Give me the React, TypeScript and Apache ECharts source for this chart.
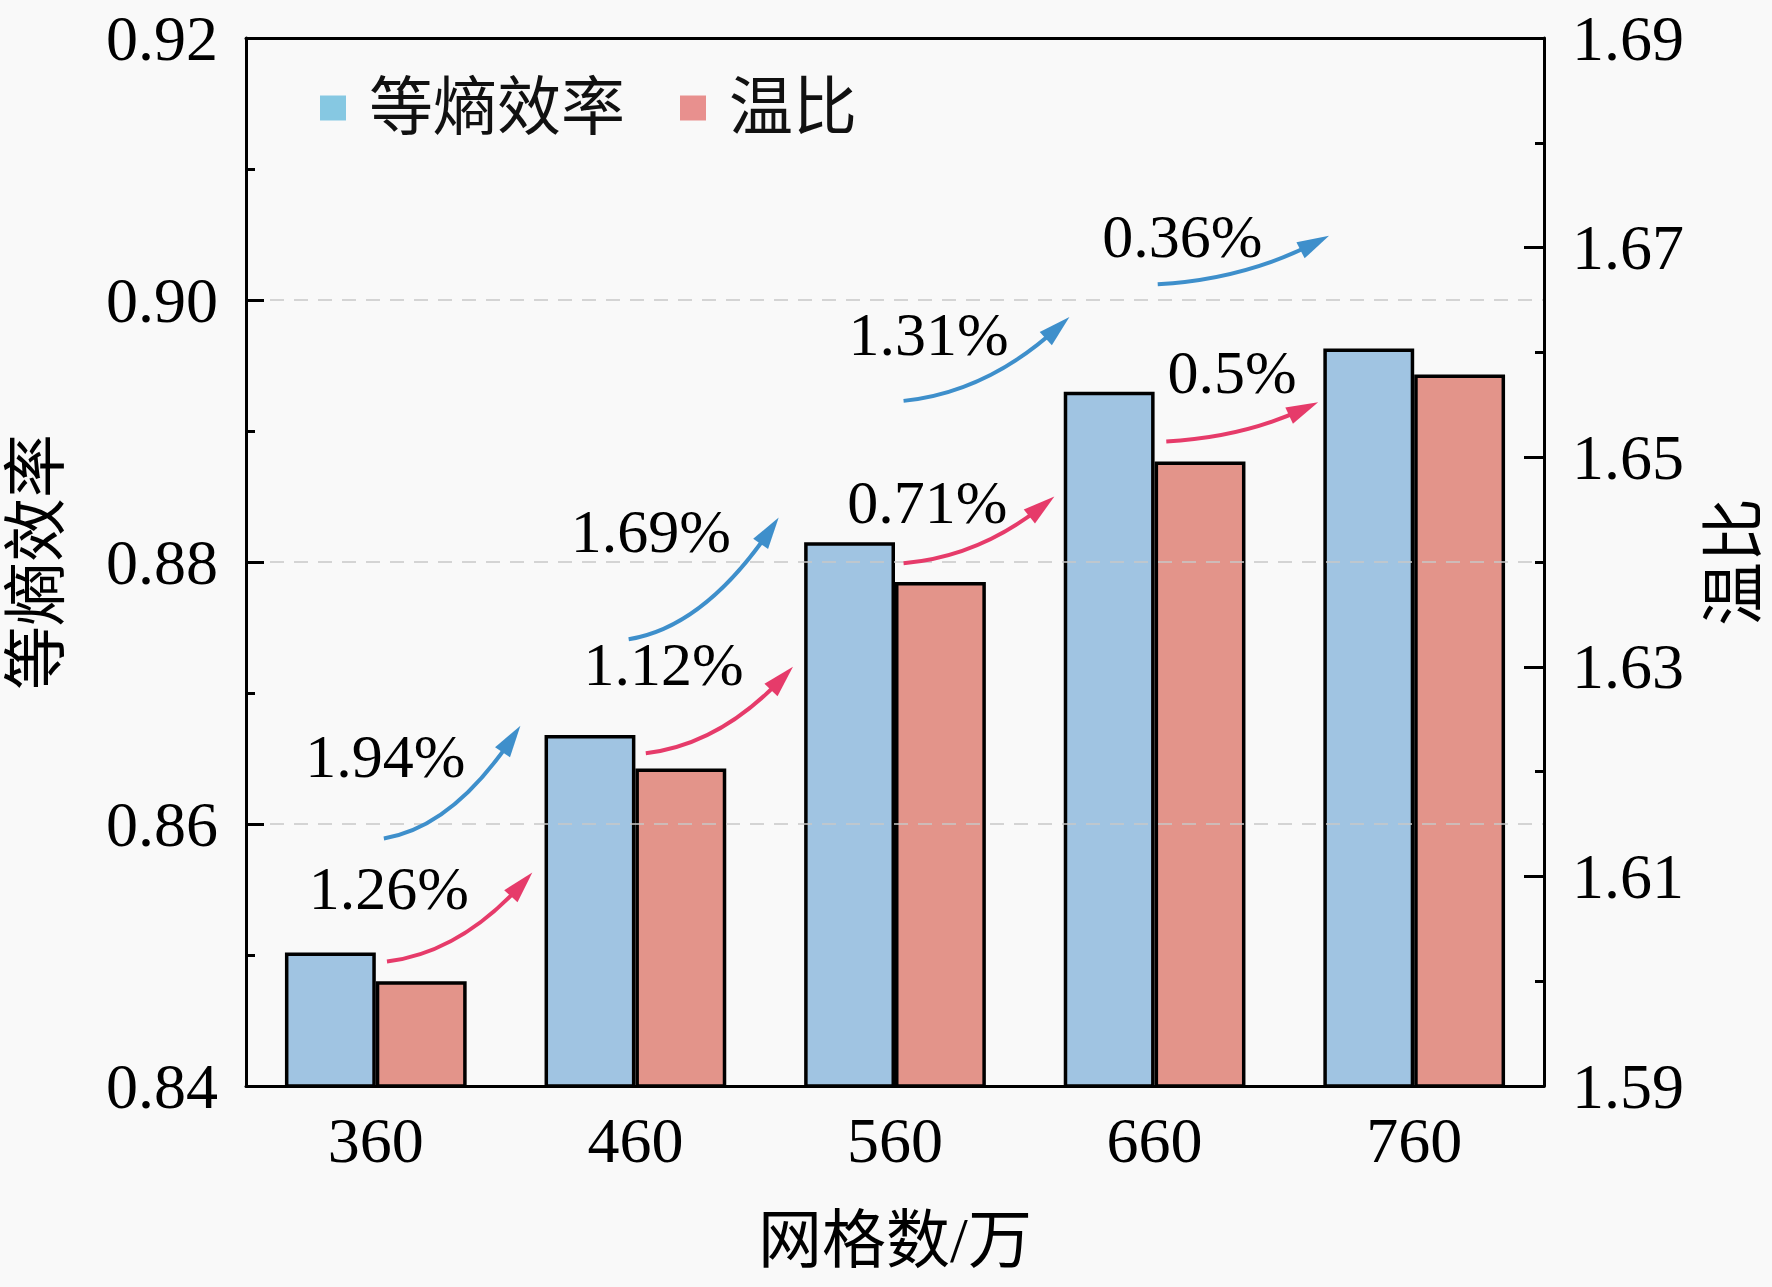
import React, { useEffect, useRef } from "react";
import * as echarts from "echarts";

const categories = ["360", "460", "560", "660", "760"];
const efficiency = [0.8502, 0.8668, 0.8815, 0.893, 0.8963];
const tempRatio = [1.6, 1.6203, 1.6381, 1.6496, 1.6579];

const effChangeLabels = ["1.94%", "1.69%", "1.31%", "0.36%"];
const ratioChangeLabels = ["1.26%", "1.12%", "0.71%", "0.5%"];

const rightMajorTicks = [1.59, 1.61, 1.63, 1.65, 1.67, 1.69];

// annotation anchors: [category index, left-axis value]
const effArrowFrom = [[0.031, 0.8589], [0.974, 0.8741], [2.033, 0.8923], [3.012, 0.9012]];
const effArrowTo = [[0.557, 0.8675], [1.552, 0.8834], [2.672, 0.8987], [3.672, 0.9049]];
const effLabelAt = [[0.037, 0.8652], [1.059, 0.8824], [2.129, 0.8974], [3.107, 0.9049]];
const ratioArrowFrom = [[0.043, 0.8495], [1.04, 0.8654], [2.033, 0.8799], [3.045, 0.8892]];
const ratioArrowTo = [[0.603, 0.8563], [1.607, 0.872], [2.614, 0.885], [3.63, 0.8922]];
const ratioLabelAt = [[0.05, 0.8551], [1.109, 0.8722], [2.125, 0.8846], [3.298, 0.8945]];

const FONT = '"Liberation Serif", "Noto Sans CJK SC", serif';

function makeArrow(labels: string[], color: string) {
  return (params: any, api: any) => {
    const p0 = api.coord([api.value(0), api.value(1)]);
    const p1 = api.coord([api.value(2), api.value(3)]);
    const pl = api.coord([api.value(4), api.value(5)]);
    const dx = p1[0] - p0[0];
    const dy = p1[1] - p0[1];
    const c = [p0[0] + 0.5 * dx, p0[1] + 0.1 * dy];
    let ux = p1[0] - c[0];
    let uy = p1[1] - c[1];
    const len = Math.hypot(ux, uy) || 1;
    ux /= len;
    uy /= len;
    const L = 32;
    const W = 9;
    const bx = p1[0] - L * ux;
    const by = p1[1] - L * uy;
    const ex = p1[0] - L * 0.5 * ux;
    const ey = p1[1] - L * 0.5 * uy;
    return {
      type: "group",
      children: [
        {
          type: "bezierCurve",
          shape: { x1: p0[0], y1: p0[1], x2: ex, y2: ey, cpx1: c[0], cpy1: c[1] },
          style: { stroke: color, lineWidth: 4, fill: "none" },
        },
        {
          type: "polygon",
          shape: {
            points: [
              [p1[0], p1[1]],
              [bx - W * uy, by + W * ux],
              [bx + W * uy, by - W * ux],
            ],
          },
          style: { fill: color },
        },
        {
          type: "text",
          x: pl[0],
          y: pl[1],
          style: {
            text: labels[params.dataIndex],
            fill: "#000",
            fontSize: 62,
            fontFamily: FONT,
            align: "center",
            verticalAlign: "middle",
          },
        },
      ],
    };
  };
}

const axisLabelStyle = { fontFamily: FONT, fontSize: 64, color: "#000" };

export default function App() {
  const ref = useRef<HTMLDivElement>(null);
  useEffect(() => {
    if (!ref.current) return;
    const chart = echarts.init(ref.current, undefined, { renderer: "svg" });
    const effData = effArrowFrom.map((f, i) => [f[0], f[1], effArrowTo[i][0], effArrowTo[i][1], effLabelAt[i][0], effLabelAt[i][1]]);
    const ratioData = ratioArrowFrom.map((f, i) => [f[0], f[1], ratioArrowTo[i][0], ratioArrowTo[i][1], ratioLabelAt[i][0], ratioLabelAt[i][1]]);
    chart.setOption({
      animation: false,
      backgroundColor: "#F9F9F9",
      grid: {
        left: 246,
        right: 228,
        top: 38,
        bottom: 201,
        outerBoundsMode: "none",
        containLabel: false,
        show: false,
      },
      legend: {
        left: 320,
        top: 76,
        padding: 0,
        icon: "rect",
        itemWidth: 26,
        itemHeight: 25,
        itemGap: 55,
        textStyle: { fontFamily: FONT, fontSize: 64, color: "#111", padding: [0, 0, 0, 18] },
        data: [
          { name: "等熵效率", itemStyle: { color: "#86C8E2", borderWidth: 0 } },
          { name: "温比", itemStyle: { color: "#E8908E", borderWidth: 0 } },
        ],
      },
      xAxis: [
        {
          type: "category",
          data: categories,
          axisLine: { onZero: false, lineStyle: { color: "#000", width: 3 } },
          axisTick: { inside: true, length: 10, lineStyle: { width: 3, color: "#000" } },
          axisLabel: { margin: 22, ...axisLabelStyle },
          name: "网格数/万",
          nameLocation: "middle",
          nameGap: 122,
          nameTextStyle: axisLabelStyle,
          z: 5,
        },
        {
          type: "value",
          position: "top",
          min: -0.5,
          max: 4.5,
          axisLine: { show: true, onZero: false, lineStyle: { color: "#000", width: 3 } },
          axisTick: { show: false },
          axisLabel: { show: false },
          splitLine: { show: false },
          z: 5,
        },
      ],
      yAxis: [
        {
          type: "value",
          min: 0.84,
          max: 0.92,
          interval: 0.02,
          name: "等熵效率",
          nameLocation: "middle",
          nameGap: 178,
          nameTextStyle: axisLabelStyle,
          axisLine: { show: true, onZero: false, lineStyle: { color: "#000", width: 3 } },
          axisTick: { show: true, inside: true, length: 18, lineStyle: { width: 3, color: "#000" } },
          minorTick: { show: true, splitNumber: 2, length: 9, lineStyle: { width: 3, color: "#000" } },
          axisLabel: { margin: 28, formatter: (v: number) => v.toFixed(2), ...axisLabelStyle },
          splitLine: { show: true, lineStyle: { color: "#C8C8C8", width: 1.5, type: [14, 10] } },
          z: 5,
        },
        {
          type: "value",
          position: "right",
          min: 1.59,
          max: 1.69,
          interval: 0.01,
          name: "温比",
          nameLocation: "middle",
          nameRotate: 90,
          nameGap: 158,
          nameTextStyle: axisLabelStyle,
          axisLine: { show: true, onZero: false, lineStyle: { color: "#000", width: 3 } },
          axisTick: { show: true, inside: true, length: 9, lineStyle: { width: 3, color: "#000" } },
          axisLabel: {
            margin: 28,
            customValues: rightMajorTicks,
            formatter: (v: number) => v.toFixed(2),
            ...axisLabelStyle,
          },
          splitLine: { show: false },
          z: 5,
        },
        {
          type: "value",
          position: "right",
          min: 1.59,
          max: 1.69,
          axisLine: { show: false, onZero: false },
          axisTick: { show: true, inside: true, length: 20, customValues: rightMajorTicks, lineStyle: { width: 3, color: "#000" } },
          axisLabel: { show: false },
          splitLine: { show: false },
          z: 5,
        },
      ],
      series: [
        {
          type: "bar",
          name: "等熵效率",
          data: efficiency,
          xAxisIndex: 0,
          yAxisIndex: 0,
          barGap: "0%",
          barCategoryGap: "30%",
          itemStyle: { color: "#A0C4E2", borderColor: "#000", borderWidth: 3.5 },
        },
        {
          type: "bar",
          name: "温比",
          data: tempRatio,
          xAxisIndex: 0,
          yAxisIndex: 1,
          barGap: "0%",
          barCategoryGap: "30%",
          itemStyle: { color: "#E3948A", borderColor: "#000", borderWidth: 3.5 },
        },
        {
          type: "custom",
          name: "effArrows",
          xAxisIndex: 1,
          yAxisIndex: 0,
          data: effData,
          encode: { x: [0, 2, 4], y: [1, 3, 5] },
          renderItem: makeArrow(effChangeLabels, "#3E8FCB"),
          clip: false,
          silent: true,
          z: 10,
        },
        {
          type: "custom",
          name: "ratioArrows",
          xAxisIndex: 1,
          yAxisIndex: 0,
          data: ratioData,
          encode: { x: [0, 2, 4], y: [1, 3, 5] },
          renderItem: makeArrow(ratioChangeLabels, "#E63B6A"),
          clip: false,
          silent: true,
          z: 10,
        },
      ],
    });
    return () => chart.dispose();
  }, []);
  return <div ref={ref} style={{ position: "fixed", left: 0, top: 0, width: 1772, height: 1287 }} />;
}
